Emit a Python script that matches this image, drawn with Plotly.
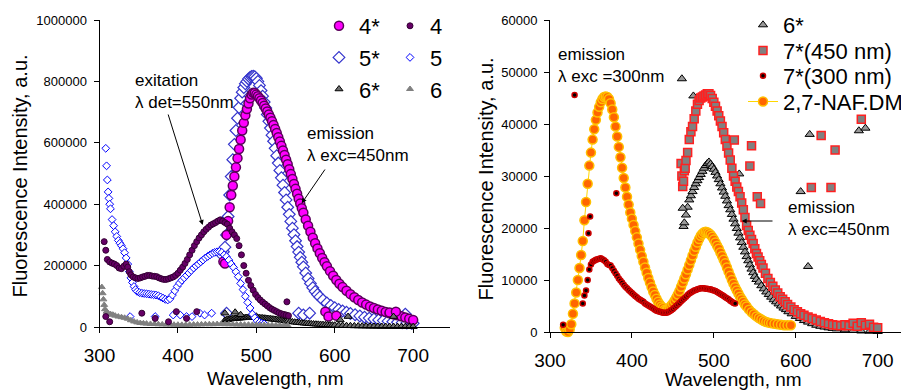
import plotly.graph_objects as go

# ---------------- LEFT PANEL DATA ----------------
# 4* : emission (lambda exc = 450 nm)
nm_4s = [462,464,466,468,470,472,474,476,478,480,
         482,484,486,488,490,492,494,496,498,500,
         502,504,506,508,510,512,514,516,518,520,
         522,524,526,528,530,532,534,536,538,540,
         542,544,546,548,550,552,554,556,558,560,
         563,566,569,572,575,578,581,584,587,590,
         594,598,602,606,610,615,620,625,630,635,
         640,645,650,655,660,665,670,675,680,685,
         690,695,700,
         458,460,588,592,602,670,678]
val_4s = [300000,345000,390000,430000,460000,490000,520000,550000,580000,610000,
          640000,665000,690000,710000,728000,745000,757000,763000,762000,757000,
          752000,745000,738000,730000,721000,712000,702000,692000,682000,670000,
          658000,645000,632000,618000,604000,590000,575000,560000,545000,530000,
          514000,498000,482000,466000,450000,434000,418000,402000,387000,372000,
          350000,330000,310000,291000,273000,256000,240000,225000,211000,198000,
          182000,167000,153000,141000,130000,118000,107000,97000,88000,80000,
          73000,67000,62000,57000,53000,49000,45000,41000,38000,35000,
          31000,27000,23000,
          213000,207000,50000,34000,37000,47000,50000]

# 4 : excitation (lambda det = 550 nm)
nm_4 = [306,308,310,313,316,319,322,325,328,331,
        334,336,338,340,343,346,349,352,355,358,
        361,364,367,370,373,376,379,382,385,388,
        391,394,397,400,403,406,409,412,415,418,
        421,424,427,430,433,436,439,442,445,448,
        451,454,457,460,463,466,469,472,475,478,
        481,484,487,490,493,496,499,502,505,508,
        511,514,517,520,523,526,529,532,535,538,
        541,
        308,313,354,371,388,398,411,424,539]
val_4 = [278000,250000,220000,212000,208000,205000,200000,192000,190000,198000,
         205000,195000,180000,170000,163000,160000,158000,160000,163000,165000,
         168000,168000,166000,165000,164000,160000,157000,155000,155000,157000,
         160000,163000,168000,175000,185000,195000,207000,220000,235000,250000,
         265000,278000,290000,300000,310000,318000,325000,332000,336000,340000,
         345000,349000,345000,340000,335000,322000,310000,300000,288000,265000,
         235000,200000,175000,152000,135000,120000,106000,96000,88000,81000,
         75000,69000,63000,58000,54000,50000,46000,43000,41000,39000,
         37000,
         34000,17000,45000,28000,17000,50000,28000,50000,82000]

# 5* : emission
nm_5s = [456,458,460,462,464,466,468,470,472,474,
         476,478,480,482,484,486,488,490,492,494,
         496,498,500,502,504,506,508,510,512,514,
         516,518,520,522,524,526,528,530,532,534,
         536,538,540,542,544,546,548,550,552,554,
         556,558,560,563,566,569,572,575,578,581,
         585,590,595,600,605,610,615,620,626,632,
         638,644,650,656,662,668,674,680,686,692,
         698,700,
         462,554,560,568,690]
val_5s = [235000,245000,260000,300000,360000,430000,490000,545000,595000,640000,
          680000,715000,745000,765000,780000,792000,800000,808000,813000,816000,
          817000,815000,810000,800000,787000,770000,752000,733000,713000,692000,
          670000,648000,625000,605000,582000,558000,534000,510000,486000,462000,
          438000,414000,390000,367000,344000,322000,301000,281000,262000,244000,
          227000,211000,196000,176000,158000,142000,128000,116000,106000,98000,
          88000,78000,70000,63000,57000,52000,48000,44000,40000,36000,
          32000,29000,26000,23000,21000,19000,17000,15500,14000,13000,
          12000,12000,
          45000,45000,39000,45000,42000]

# 5 : excitation
nm_5 = [308,309,310,311,312,313,314,316,318,320,
        322,324,326,328,330,332,334,336,338,340,
        342,344,346,348,351,354,357,360,363,366,
        369,372,375,378,381,384,387,390,393,396,
        399,402,405,408,411,414,417,420,423,426,
        429,432,435,438,441,444,447,450,453,456,
        459,462,465,468,471,474,477,480,483,486,
        489,492,495,498,501,504,507,510,
        339,371,394,403,411,418,428,434,443]
val_5 = [582000,525000,479000,440000,419000,400000,385000,350000,330000,310000,
         295000,282000,273000,265000,255000,242000,225000,205000,180000,160000,
         145000,132000,122000,116000,112000,110000,109000,108000,107000,106000,
         105000,104000,102000,98000,94000,90000,88000,92000,104000,118000,
         132000,143000,152000,160000,168000,176000,184000,192000,199000,205000,
         212000,218000,225000,230000,235000,240000,243000,245000,246000,243000,
         235000,229000,218000,205000,194000,180000,164000,142000,122000,100000,
         80000,62000,42000,30000,20000,15000,12000,10000,
         34000,34000,39000,39000,34000,34000,45000,39000,45000]

# 6* : emission
nm_6s = [460,462,464,466,468,470,472,474,476,478,
         480,482,484,486,488,490,492,494,496,498,
         500,502,504,506,508,510,512,514,516,518,
         520,522,524,526,528,530,532,534,536,538,
         540,543,546,549,552,555,558,561,564,567,
         570,573,576,579,582,585,588,591,594,597,
         600,605,610,615,620,625,630,635,640,645,
         650,655,660,665,670,675,680,685,690,695,
         700,
         460,473,480,500,539,607,617,675]
val_6s = [22000,23500,24500,25500,26300,27000,27500,28000,28400,28800,
          29200,29600,30000,30400,30700,31000,31200,31300,31200,31000,
          30700,30400,30000,29600,29200,28700,28200,27600,27000,26400,
          25800,25200,24600,24000,23300,22600,21900,21100,20300,19500,
          18700,17600,16600,15600,14700,13900,13100,12400,11700,11000,
          10400,9800,9200,8700,8200,7700,7200,6800,6400,6000,
          5700,5200,4700,4300,3900,3500,3200,2900,2600,2300,
          2100,1900,1700,1600,1500,1400,1300,1200,1100,1000,
          1000,
          45000,48000,40000,35000,34000,23000,34000,34000]

# 6 : excitation
nm_6 = [303,304,305,306,307,309,311,314,317,320,
        324,328,332,336,340,344,348,352,356,360,
        365,370,375,380,385,390,395,400,405,410,
        415,420,425,430,435,440,445,450,455,460,
        465,470,475,480,485,490,495,500,505,510,
        515,520,525,530,535,540]
val_6 = [130000,110000,90000,72000,58000,50000,45000,42000,40000,37000,
         34000,32000,30000,27000,22000,18000,15000,13000,12000,11000,
         10000,9500,9000,8500,8000,8000,7500,7500,7000,7000,
         7500,8000,8000,8500,9000,9000,9000,9500,9500,9000,
         9000,8500,8000,8000,7500,7500,7000,7000,6500,6500,
         6000,6000,5500,5500,5000,5000]

# ---------------- RIGHT PANEL DATA ----------------
nm_naf = [318,320,322,324,326,328,330,332,334,336,
          338,340,342,344,346,348,350,352,354,356,
          358,360,362,364,366,368,370,372,374,376,
          378,380,382,384,386,388,390,392,394,396,
          398,400,402,404,406,408,410,412,414,416,
          418,420,422,424,426,428,430,432,434,436,
          438,440,442,444,446,448,450,452,454,456,
          458,460,462,464,466,468,470,472,474,476,
          478,480,482,484,486,488,490,492,494,496,
          498,500,502,504,506,508,510,512,514,516,
          518,520,522,524,526,528,530,532,534,536,
          538,540,543,546,549,552,555,558,561,564,
          567,570,574,578,582,586,590,594]
val_naf = [800,100,0,500,1500,3500,5500,7600,10000,12300,
           14800,17500,21500,25000,28500,32000,34500,37000,39000,40800,
           42200,43300,44200,44800,45200,45300,45200,44800,44000,42800,
           41300,39500,37600,35600,33600,31600,29600,27800,26000,24500,
           23000,21800,20600,19400,18200,17000,15800,14600,13500,12400,
           11400,10400,9500,8600,7800,7100,6400,5800,5300,4900,
           4600,4300,4200,4400,4700,5100,5500,6000,6600,7200,
           7900,8700,9500,10300,11100,12000,12900,13800,14700,15600,
           16400,17200,17900,18500,18900,19200,19300,19200,19000,18700,
           18300,17800,17200,16600,16000,15300,14600,13900,13200,12400,
           11600,10800,10000,9300,8600,8000,7400,6800,6300,5800,
           5300,4900,4300,3800,3400,3000,2700,2400,2100,1900,
           1800,1700,1600,1500,1400,1300,1300,1300]

nm_7s300 = [316,340,342,344,346,348,350,352,354,356,
            358,360,362,364,366,368,370,372,374,376,
            378,380,382,384,386,388,390,392,394,396,
            398,400,402,404,406,408,410,412,414,416,
            418,420,422,424,426,428,430,432,434,436,
            438,440,442,444,446,448,450,452,454,456,
            458,460,462,464,466,468,470,472,474,476,
            478,480,482,484,486,488,490,492,494,496,
            498,500,502,504,506,508,510,512,514,516,
            518,520,522,524,526,
            330,347,349,381]
val_7s300 = [1400,5500,7000,8000,10000,12000,13000,13500,13700,13900,
             14000,14100,14200,14000,13800,13500,13100,12900,12800,12300,
             11800,11300,10800,10300,9900,9500,9100,8700,8400,8100,
             7800,7500,7200,6900,6700,6400,6200,6000,5800,5500,
             5300,5100,4900,4700,4500,4300,4100,4000,3900,3800,
             3700,3700,3700,3800,4000,4200,4400,4700,5000,5300,
             5600,5900,6200,6500,6800,7100,7400,7600,7800,8000,
             8100,8200,8300,8400,8400,8400,8300,8300,8200,8200,
             8100,8000,7900,7700,7500,7300,7100,6900,6700,6500,
             6300,6000,5800,5600,5500,
             45600,19000,22200,26700]

nm_7s450 = [460,461,462,463,464,465,466,468,470,472,
            474,476,478,480,482,484,486,488,490,492,
            494,496,498,500,502,504,506,508,510,512,
            514,516,518,520,522,524,526,528,530,532,
            534,536,538,540,542,544,546,548,550,552,
            554,556,558,560,563,566,569,572,575,578,
            581,584,587,590,594,598,602,606,610,615,
            620,625,630,635,640,645,650,655,660,665,
            670,675,680,685,690,695,700,
            525,546,544,553,557,631,648,619,643,680]
val_7s450 = [32400,30000,28000,29000,31000,31500,33000,34500,37000,38500,
             39500,41000,42500,43800,44500,45000,45200,45400,45600,45800,
             45800,45500,44900,44200,43400,42500,41600,40600,39500,38300,
             37000,35700,34400,33100,31500,30000,29000,27900,27000,26000,
             24800,23500,22000,20500,19500,18600,17800,17000,16000,15100,
             14400,13700,13000,12300,11300,10300,9500,8800,8100,7500,
             6800,6300,5800,5300,4800,4300,3900,3500,3200,2900,
             2600,2300,2000,1800,1600,1400,1300,1200,1400,1200,
             1700,1100,1800,1300,1500,900,800,
             36900,35800,31900,26000,24700,37800,35000,27800,27800,40900]

nm_6sR = [463,464,466,468,470,472,474,476,478,480,
          482,484,486,488,490,492,494,496,498,500,
          502,504,506,508,510,512,514,516,518,520,
          522,524,526,528,530,532,534,536,538,540,
          542,544,546,548,550,552,555,558,561,564,
          567,570,573,576,579,582,585,588,591,595,
          600,605,610,615,620,625,630,635,640,645,
          650,660,670,680,690,700,
          461,475,462,531,617,606,615,677,685]
val_6sR = [20300,21000,22500,24000,25400,26200,27000,27800,28500,29100,
           29700,30300,30900,31500,32000,32400,32700,32300,31800,31300,
           30700,30000,29300,28500,27700,26900,26100,25200,24300,23500,
           22600,21700,20800,19900,19000,18100,17200,16300,15400,14500,
           13700,12900,12100,11400,10700,10100,9600,8900,8300,7700,
           7200,6700,6200,5800,5400,5000,4600,4300,3900,3500,
           3000,2600,2200,1900,1600,1300,1100,950,800,700,
           600,400,300,200,150,100,
           48700,45400,23800,30400,38000,27000,12600,38700,39200]

# ---------------- FIGURE ----------------
# the page body has an 8 px margin, so the figure is 8 px smaller on each axis
OFF = 8
W, H = 909 - OFF, 390 - OFF
FONT = "Liberation Sans, Arial, Helvetica, sans-serif"


def px(x):
    return (x - OFF) / W


def py(y):
    return 1 - (y - OFF) / H


fig = go.Figure()

L = dict(xaxis="x", yaxis="y")
R = dict(xaxis="x2", yaxis="y2")

# left panel (drawing order)
fig.add_trace(go.Scatter(x=nm_5s, y=val_5s, name="5*", mode="markers", legend="legend", legendrank=2,
                         marker=dict(symbol="diamond", size=9, color="white",
                                     line=dict(color="#3333CC", width=1.2)), cliponaxis=False, **L))
fig.add_trace(go.Scatter(x=nm_4s, y=val_4s, name="4*", mode="markers", legend="legend", legendrank=1,
                         marker=dict(symbol="circle", size=9, color="#FF00FF",
                                     line=dict(color="#5A005A", width=1.5)), cliponaxis=False, **L))
fig.add_trace(go.Scatter(x=nm_6s, y=val_6s, name="6*", mode="markers", legend="legend", legendrank=3,
                         marker=dict(symbol="triangle-up", size=7, color="#707070",
                                     line=dict(color="#000000", width=1)), cliponaxis=False, **L))
fig.add_trace(go.Scatter(x=nm_5, y=val_5, name="5", mode="markers", legend="legend2", legendrank=2,
                         marker=dict(symbol="diamond", size=6, color="white",
                                     line=dict(color="#0000FF", width=1)), cliponaxis=False, **L))
fig.add_trace(go.Scatter(x=nm_6, y=val_6, name="6", mode="markers", legend="legend2", legendrank=3,
                         marker=dict(symbol="triangle-up", size=6, color="#808080",
                                     line=dict(color="#808080", width=1)), cliponaxis=False, **L))
fig.add_trace(go.Scatter(x=nm_4, y=val_4, name="4", mode="markers", legend="legend2", legendrank=1,
                         marker=dict(symbol="circle", size=6, color="#660066",
                                     line=dict(color="#330033", width=1)), cliponaxis=False, **L))

# right panel
fig.add_trace(go.Scatter(x=nm_naf, y=val_naf, name="2,7-NAF.DM", mode="lines+markers", legend="legend6",
                         line=dict(color="#FFD700", width=1),
                         marker=dict(symbol="circle", size=9, color="#FF6600",
                                     line=dict(color="#FFC000", width=1.5)), cliponaxis=False, **R))
fig.add_trace(go.Scatter(x=nm_6sR, y=val_6sR, name="6*", mode="markers", legend="legend3",
                         marker=dict(symbol="triangle-up", size=8, color="#999999",
                                     line=dict(color="#000000", width=1)), cliponaxis=False, **R))
fig.add_trace(go.Scatter(x=nm_7s450, y=val_7s450, name="7*(450 nm)", mode="markers", legend="legend4",
                         marker=dict(symbol="square", size=8, color="#808080",
                                     line=dict(color="#FF2020", width=1.5)), cliponaxis=False, **R))
fig.add_trace(go.Scatter(x=nm_7s300, y=val_7s300, name="7*(300 nm)", mode="markers", legend="legend5",
                         marker=dict(symbol="circle", size=5, color="#000000",
                                     line=dict(color="#CC0000", width=1.5)), cliponaxis=False, **R))

axis_common = dict(showgrid=False, zeroline=False, showline=True, linecolor="black", linewidth=1,
                   ticks="outside", ticklen=5, tickcolor="black", tickwidth=1,
                   color="black", automargin=False)

fig.update_layout(
    width=W, height=H, autosize=False,
    margin=dict(l=0, r=0, t=0, b=0, pad=0, autoexpand=False),
    paper_bgcolor="white", plot_bgcolor="white",
    font=dict(family=FONT, color="black"),
    xaxis=dict(domain=[px(99.5), px(450)], range=[300, 747], tickvals=[300, 400, 500, 600, 700],
               tickfont=dict(size=19), ticklabelstandoff=6, anchor="y", **axis_common),
    yaxis=dict(domain=[py(327), py(20)], range=[0, 1000000], dtick=200000, tickformat="d",
               tickfont=dict(size=13), ticklabelstandoff=4, anchor="x", **axis_common),
    xaxis2=dict(domain=[px(550), px(908)], range=[300, 737], tickvals=[300, 400, 500, 600, 700],
                tickfont=dict(size=19), ticklabelstandoff=6, anchor="y2", **axis_common),
    yaxis2=dict(domain=[py(332), py(20)], range=[0, 60000], dtick=10000, tickformat="d",
                tickfont=dict(size=13), ticklabelstandoff=4, anchor="x2", **axis_common),
)

leg_common = dict(xanchor="left", yanchor="middle", bgcolor="rgba(0,0,0,0)", borderwidth=0,
                  font=dict(size=22, family=FONT, color="black"), traceorder="normal")
fig.update_layout(
    legend=dict(x=px(319), y=py(57.5), **leg_common),
    legend2=dict(x=px(390), y=py(57.5), **leg_common),
    legend3=dict(x=px(743), y=py(25), **leg_common),
    legend4=dict(x=px(743), y=py(50.7), **leg_common),
    legend5=dict(x=px(743), y=py(76), **leg_common),
    legend6=dict(x=px(743), y=py(101.7), **leg_common),
)

ann = []
TXT = dict(xref="paper", yref="paper", showarrow=False, align="left",
           font=dict(family=FONT, size=17, color="black"))
ann.append(dict(x=px(133), y=py(91.8), xanchor="left", yanchor="middle",
                text="exitation<br>λ det=550nm", **TXT))
ann.append(dict(x=px(305), y=py(144.7), xanchor="left", yanchor="middle",
                text="emission<br>λ exc=450nm", **TXT))
ann.append(dict(x=px(555.7), y=py(65.8), xanchor="left", yanchor="middle",
                text="emission<br>λ exc =300nm", **TXT))
ann.append(dict(x=px(785.7), y=py(218.7), xanchor="left", yanchor="middle",
                text="emission<br>λ exc=450nm", **TXT))

TITLE = dict(xref="paper", yref="paper", showarrow=False,
             font=dict(family=FONT, size=20, color="black"))
XTITLE = dict(xref="paper", yref="paper", showarrow=False,
              font=dict(family=FONT, size=19, color="black"))
ann.append(dict(x=px(19.5), y=py(176), textangle=-90, xanchor="center", yanchor="middle",
                text="Fluorescence Intensity, a.u.", **TITLE))
ann.append(dict(x=px(485.5), y=py(179), textangle=-90, xanchor="center", yanchor="middle",
                text="Fluorescence Intensity, a.u.", **TITLE))
ann.append(dict(x=px(275), y=py(378), xanchor="center", yanchor="middle",
                text="Wavelength, nm", **XTITLE))
ann.append(dict(x=px(733), y=py(379), xanchor="center", yanchor="middle",
                text="Wavelength, nm", **XTITLE))

ARR = dict(xref="paper", yref="paper", showarrow=True, text="", arrowhead=2, arrowsize=1,
           arrowwidth=1, arrowcolor="black", standoff=0)
ann.append(dict(x=px(202.7), y=py(225), ax=-35, ay=-112, **ARR))
ann.append(dict(x=px(301.7), y=py(203.3), ax=24.3, ay=-35.3, **ARR))
ann.append(dict(x=px(741.7), y=py(221), ax=32.3, ay=0, **ARR))

fig.update_layout(annotations=ann)

fig.write_html("out.html")
